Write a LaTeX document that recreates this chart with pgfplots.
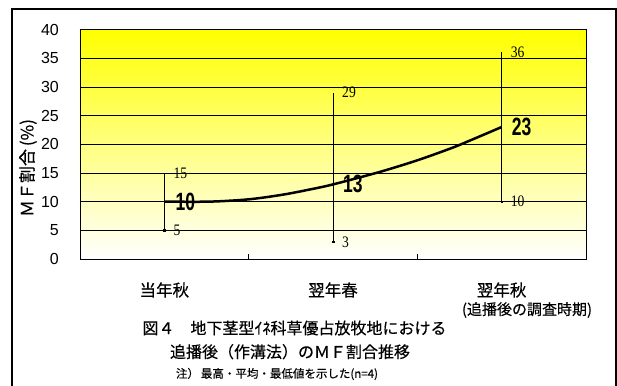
\documentclass[border=0pt]{standalone}
\usepackage{fontspec}
\setmainfont{Liberation Sans}
\newfontfamily\jp{Noto Sans CJK JP}[FakeBold=0.4]
\newfontfamily\meanfont{Liberation Sans}[FakeStretch=0.7]
\newfontfamily\serifn{Liberation Serif}[FakeStretch=0.85]
\usepackage{pgfplots}
\pgfplotsset{compat=1.18}
\begin{document}
\begin{tikzpicture}
\useasboundingbox (-80pt,-126pt) rectangle (537pt,259pt);
\draw[line width=2pt] (-68pt,-140pt) -- (-68pt,249.7pt) -- (536pt,249.7pt) -- (536pt,-140pt);
\begin{axis}[
  at={(0pt,0pt)}, anchor=south west,
  scale only axis, width=506pt, height=229.5pt,
  xmin=0, xmax=3, ymin=0, ymax=40,
  ytick={0,5,...,40},
  ymajorgrids, grid style={black, line width=0.6pt},
  xtick={1,2}, xticklabels={}, xtick align=inside, xtick pos=lower,
  major tick length=5pt,
  x tick style={black, line width=0.6pt},
  ytick style={draw=none},
  axis line style={black, line width=0.8pt},
  axis background/.style={top color={rgb,255:red,255;green,255;blue,0}, bottom color=white},
  yticklabel style={font=\fontsize{16}{16}\selectfont, anchor=east, inner sep=0pt, xshift=-21pt},
  /pgf/number format/assume math mode=true,
  clip=false,
]
% range bars (min-max)
\addplot[black, line width=0.6pt] coordinates {(0.5,5) (0.5,15)};
\addplot[black, line width=0.6pt] coordinates {(1.5,3) (1.5,29)};
\addplot[black, line width=0.6pt] coordinates {(2.5,10) (2.5,36)};
\addplot[only marks, mark=square*, mark size=0.8pt, black] coordinates {(0.5,5) (1.5,3) (2.5,10)};
% mean curve
\addplot[black, line width=2.5pt, smooth, tension=0.5] coordinates {
 (0.5,10) (0.77,10.0) (1.0,10.4) (1.2,11.2) (1.36,12.1) (1.5,13) (1.78,15.2) (2.0,17.2) (2.2,19.3) (2.3,20.5) (2.5,23)};
% max/min labels
\node[anchor=west, inner sep=0pt, font=\serifn\fontsize{16}{16}\selectfont, xshift=9pt] at (axis cs:0.5,15) {15};
\node[anchor=west, inner sep=0pt, font=\serifn\fontsize{16}{16}\selectfont, xshift=9pt] at (axis cs:0.5,5) {5};
\node[anchor=west, inner sep=0pt, font=\serifn\fontsize{16}{16}\selectfont, xshift=9pt] at (axis cs:1.5,29) {29};
\node[anchor=west, inner sep=0pt, font=\serifn\fontsize{16}{16}\selectfont, xshift=9pt] at (axis cs:1.5,3) {3};
\node[anchor=west, inner sep=0pt, font=\serifn\fontsize{16}{16}\selectfont, xshift=9pt] at (axis cs:2.5,36) {36};
\node[anchor=west, inner sep=0pt, font=\serifn\fontsize{16}{16}\selectfont, xshift=9pt] at (axis cs:2.5,10) {10};
% mean labels
\node[anchor=west, inner sep=0pt, font=\meanfont\bfseries\fontsize{25}{25}\selectfont, xshift=11pt] at (axis cs:0.5,10) {10};
\node[anchor=west, inner sep=0pt, font=\meanfont\bfseries\fontsize{25}{25}\selectfont, xshift=10pt] at (axis cs:1.5,13) {13};
\node[anchor=west, inner sep=0pt, font=\meanfont\bfseries\fontsize{25}{25}\selectfont, xshift=10pt] at (axis cs:2.5,23) {23};
% category labels
\node[font=\jp\fontsize{16.5}{16.5}\selectfont, yshift=-31pt] at (axis cs:0.5,0) {当年秋};
\node[font=\jp\fontsize{16.5}{16.5}\selectfont, yshift=-31pt] at (axis cs:1.5,0) {翌年春};
\node[font=\jp\fontsize{16.5}{16.5}\selectfont, yshift=-31pt] at (axis cs:2.5,0) {翌年秋};
\end{axis}
\node[rotate=90, font=\jp\fontsize{17}{17}\selectfont] at (-52pt,91pt) {ＭＦ割合\,(\%)};
\node[font=\jp\fontsize{15}{15}\selectfont] at (447pt,-51pt) {(追播後の調査時期)};
\node[font=\jp\fontsize{16}{16}\selectfont] at (214.5pt,-69pt) {図４　地下茎型ｲﾈ科草優占放牧地における};
\node[font=\jp\fontsize{16}{16}\selectfont] at (210pt,-92.7pt) {追播後（作溝法）のＭＦ割合推移};
\node[font=\jp\fontsize{11.5}{11.5}\selectfont] at (197pt,-115pt) {注）\,最高・平均・最低値を示した(n=4)};
\end{tikzpicture}
\end{document}
